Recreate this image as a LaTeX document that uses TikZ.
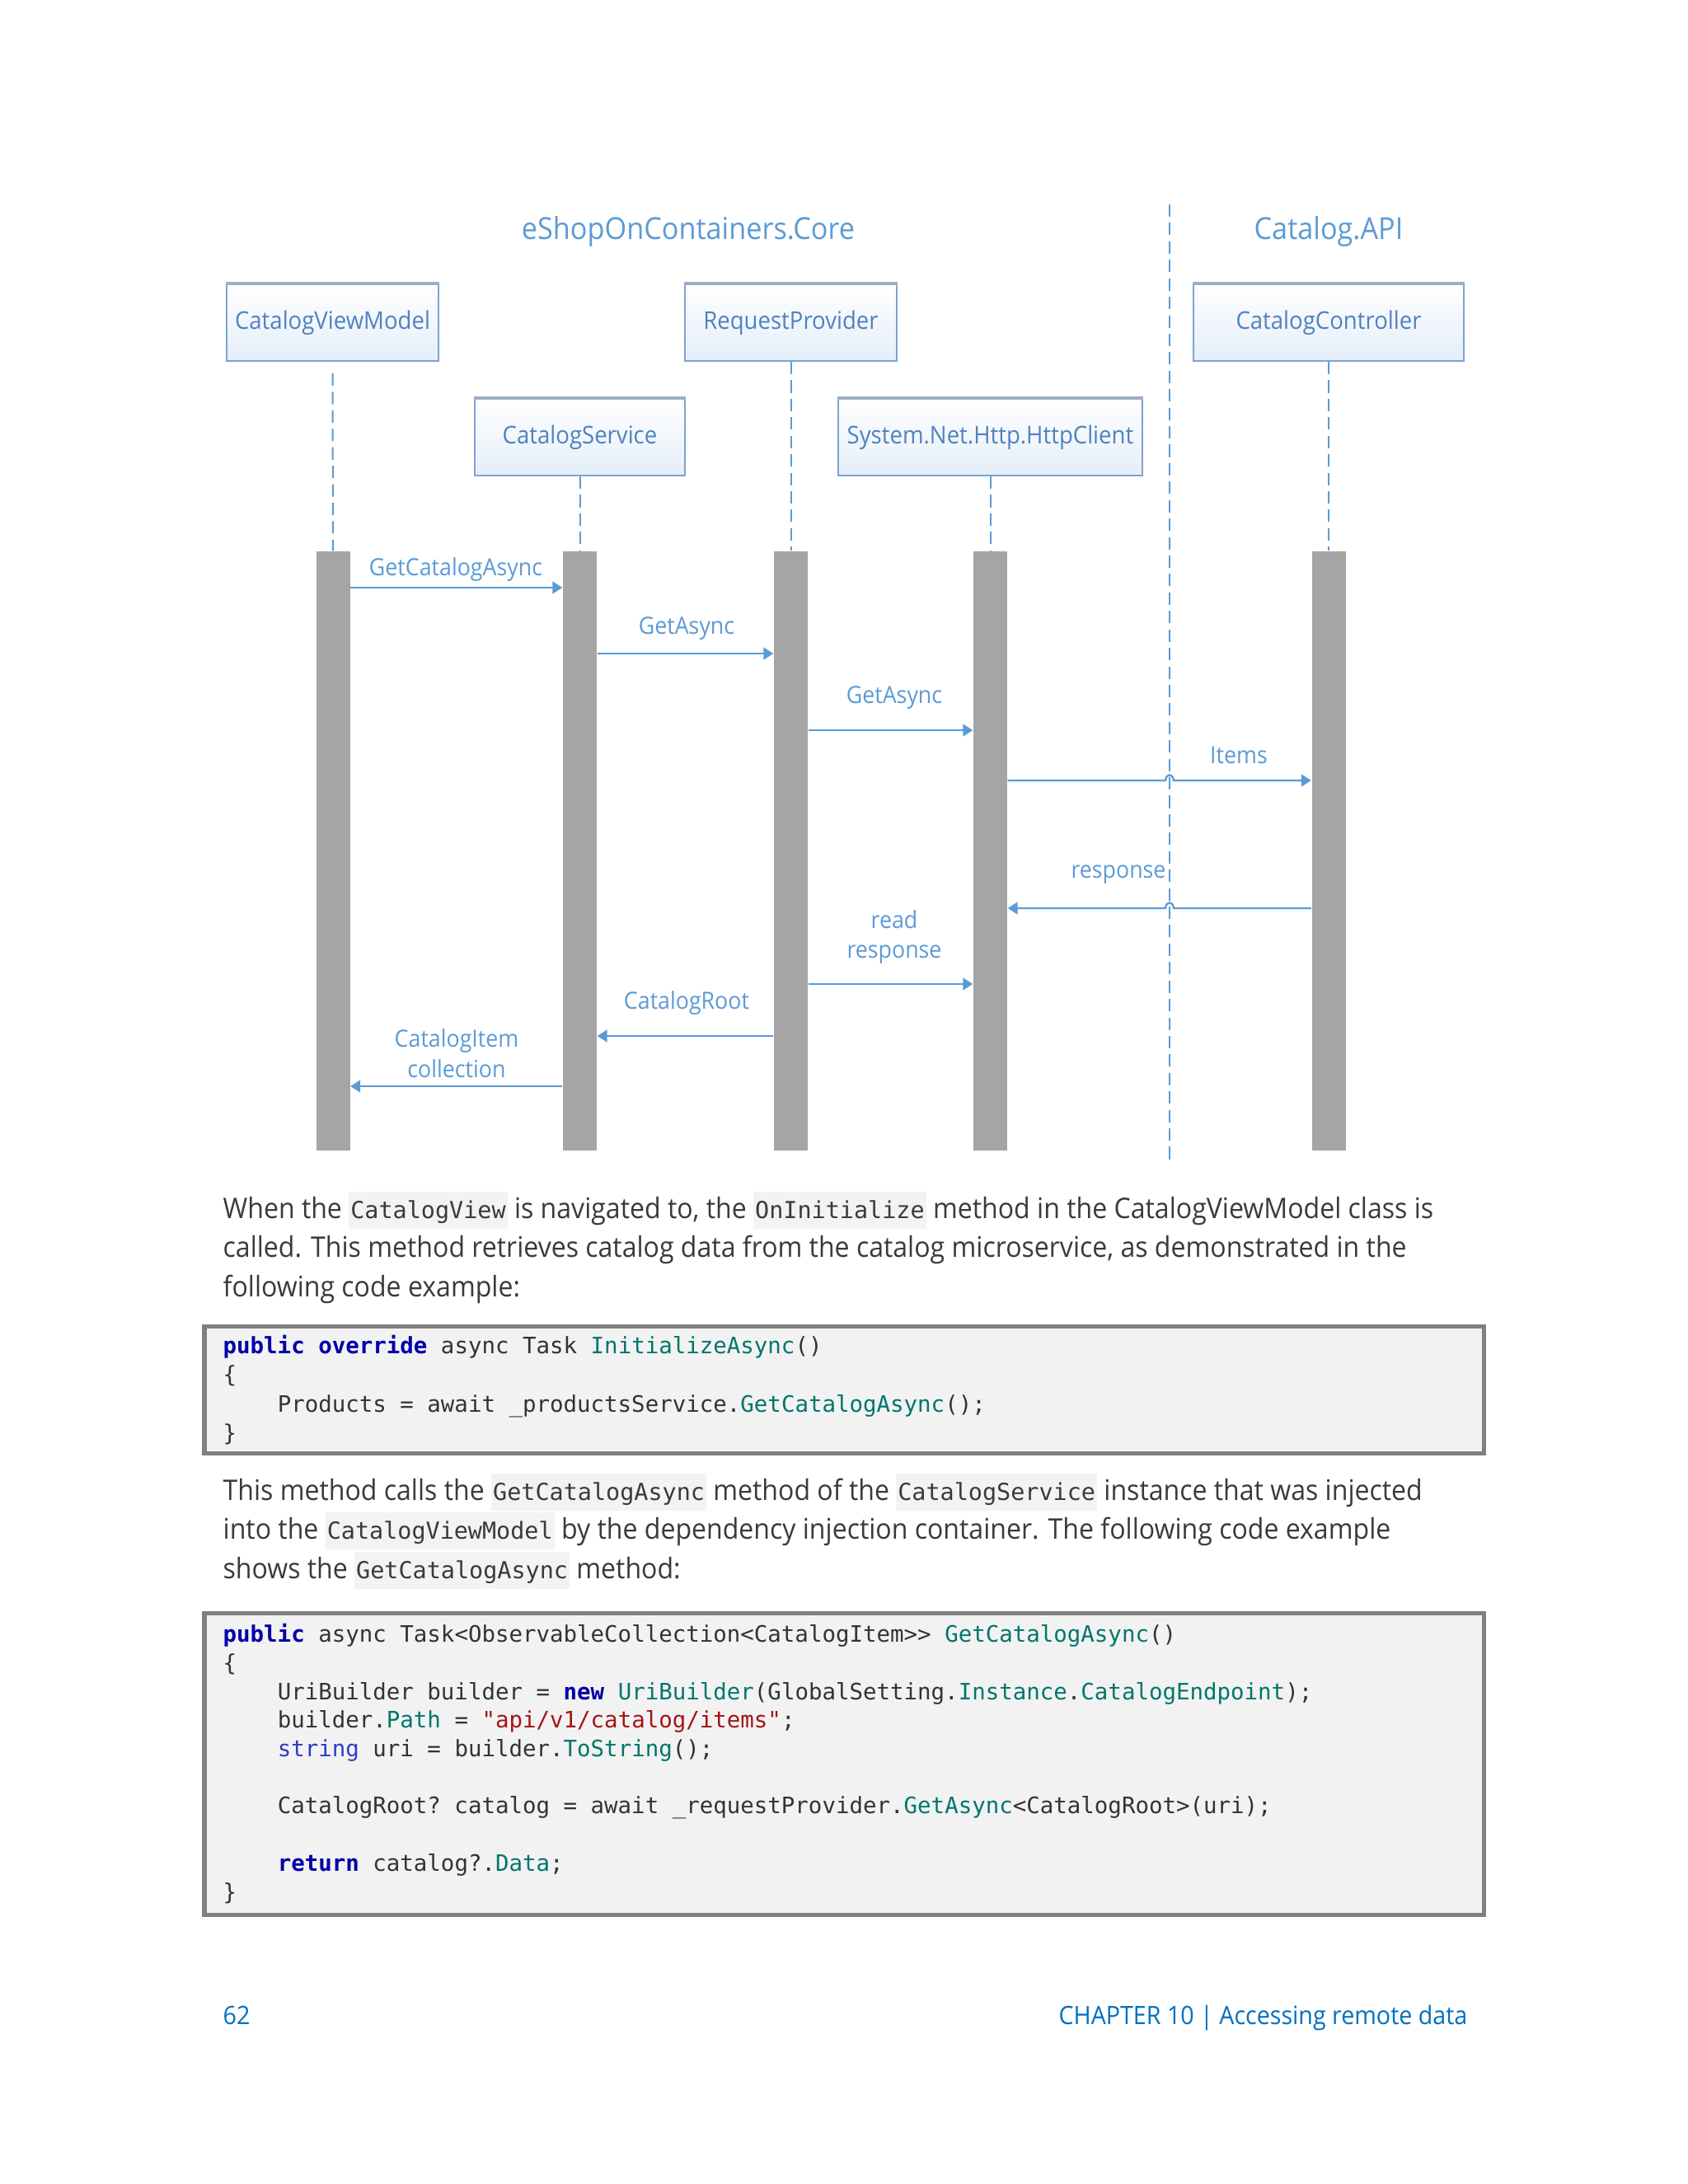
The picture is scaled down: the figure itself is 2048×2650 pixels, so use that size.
\documentclass[tikz,border=0pt]{standalone}
\usepackage{fontspec}
\setmainfont{Open Sans}[FakeStretch=0.93]
\setmonofont{DejaVu Sans Mono}
\usetikzlibrary{arrows.meta}
\definecolor{boxline}{HTML}{7DA3D2}
\definecolor{boxtop}{HTML}{9EAFC4}
\definecolor{boxfill}{HTML}{E4EEF9}
\definecolor{boxtext}{HTML}{4F82BE}
\definecolor{msgblue}{HTML}{5B9BD5}
\definecolor{bargray}{HTML}{A5A5A5}
\definecolor{bodygray}{HTML}{3A3A3A}
\definecolor{inlinebg}{HTML}{F3F3F3}
\definecolor{codebg}{HTML}{F2F2F2}
\definecolor{codeframe}{HTML}{808080}
\definecolor{codegray}{HTML}{333333}
\definecolor{kwblue}{HTML}{0000A8}
\definecolor{typeblue}{HTML}{2B3FC0}
\definecolor{methteal}{HTML}{00766C}
\definecolor{strred}{HTML}{A31515}
\definecolor{footblue}{HTML}{0070C0}
\newcommand\icode[1]{{\setlength\fboxsep{0pt}\colorbox{inlinebg}{\rule[-3.8pt]{0pt}{13.4pt}\kern0.6pt\fontsize{8.5}{10}\ttfamily #1\kern0.6pt}}}
\newcommand\kw[1]{\textcolor{kwblue}{\bfseries #1}}
\newcommand\kwtype[1]{\textcolor{typeblue}{#1}}
\newcommand\meth[1]{\textcolor{methteal}{#1}}
\newcommand\strlit[1]{\textcolor{strred}{#1}}
\newcommand\ind{\hphantom{0000}}
\begin{document}
\begin{tikzpicture}[x=0.29883pt,y=-0.29883pt,
  actor/.style={draw=boxline,line width=0.6pt,top color=white,bottom color=boxfill,
    minimum height=27.8pt,inner sep=0pt,text=boxtext,font=\fontsize{8.85}{11}\selectfont},
  bar/.style={fill=bargray,minimum width=12.25pt,minimum height=217.2pt,inner sep=0pt},
  life/.style={draw=msgblue,line width=0.6pt,dash pattern=on 4.5pt off 2.2pt},
  msg/.style={draw=msgblue,line width=0.7pt,-{Triangle[length=3.6pt,width=4.4pt]}},
  lbl/.style={text=msgblue,font=\fontsize{8.6}{11}\selectfont,inner sep=0pt,align=center},
  title/.style={text=msgblue,font=\fontsize{11}{13}\selectfont,inner sep=0pt},
  para/.style={anchor=base west,inner sep=0pt,text=bodygray,font=\fontsize{10.3}{14}\selectfont},
  codeline/.style={anchor=base west,inner sep=0pt,text=codegray,font=\fontsize{8.2}{10}\selectfont\ttfamily},
  codebox/.style={fill=codebg,draw=codeframe,line width=1.5pt},
  foot/.style={anchor=base,inner sep=0pt,text=footblue,font=\fontsize{9.2}{11}\selectfont}]
\fill[white] (0,0) rectangle (2048,2650);
\node[title] (core) at (835,281) {eShopOnContainers.Core};
\node[title] (api) at (1612,281) {Catalog.API};
\coordinate (septop) at (1419,248);
\coordinate (sepbot) at (1419,1412);
\draw[life] (septop) -- (sepbot);
\node[actor,minimum width=76.8pt] (cvm) at (403.5,391.5) {CatalogViewModel};
\node[actor,minimum width=76.8pt] (rp) at (959.5,391.5) {RequestProvider};
\node[actor,minimum width=98pt] (cc) at (1612,391.5) {CatalogController};
\node[actor,minimum width=76.2pt] (cs) at (703.5,530.5) {CatalogService};
\node[actor,minimum width=110.3pt] (hc) at (1201.5,530.5) {System.Net.Http.HttpClient};
\foreach \b in {cvm,rp,cc,cs,hc}
  \draw[boxtop,line width=1.2pt] (\b.north west) -- (\b.north east);
\node[bar] (b1) at (404,1032.5) {};
\node[bar] (b2) at (703.5,1032.5) {};
\node[bar] (b3) at (959.5,1032.5) {};
\node[bar] (b4) at (1201.5,1032.5) {};
\node[bar] (b5) at (1612,1032.5) {};
\draw[life] (cvm.south) ++(0,14) -- (b1.north);
\draw[life] (cs.south) -- (b2.north);
\draw[life] (rp.south) -- (b3.north);
\draw[life] (hc.south) -- (b4.north);
\draw[life] (cc.south) -- (b5.north);
\draw[msg] (b1.east |- 0,713) -- (b2.west |- 0,713);
\node[lbl] (m1) at (553,691) {GetCatalogAsync};
\draw[msg] (b2.east |- 0,793) -- (b3.west |- 0,793);
\node[lbl] (m2) at (833,763) {GetAsync};
\draw[msg] (b3.east |- 0,886) -- (b4.west |- 0,886);
\node[lbl] (m3) at (1085,847) {GetAsync};
\draw[msg] (b4.east |- 0,947) -- (1414,947) .. controls (1415,938) and (1423,938) .. (1424,947) -- (b5.west |- 0,947);
\node[lbl] (m4) at (1503,916) {Items};
\draw[msg] (b5.west |- 0,1102) -- (1424,1102) .. controls (1423,1093) and (1415,1093) .. (1414,1102) -- (b4.east |- 0,1102);
\node[lbl] (m5) at (1357,1061) {response};
\draw[msg] (b3.east |- 0,1194) -- (b4.west |- 0,1194);
\node[lbl] (m6) at (1085,1137) {read\\response};
\draw[msg] (b3.west |- 0,1257) -- (b2.east |- 0,1257);
\node[lbl] (m7) at (833,1217) {CatalogRoot};
\draw[msg] (b2.west |- 0,1318) -- (b1.east |- 0,1318);
\node[lbl] (m8) at (554,1278) {CatalogItem\\collection};
\node[para] (p1a) at (270,1478) {When the \icode{CatalogView} is navigated to, the \icode{OnInitialize} method in the CatalogViewModel class is};
\node[para] (p1b) at (270,1525) {called. This method retrieves catalog data from the catalog microservice, as demonstrated in the};
\node[para] (p1c) at (270,1573) {following code example:};
\draw[codebox] (248,1609) rectangle (1800,1763);
\node[codeline] (c1a) at (270,1642) {\kw{public} \kw{override} async Task \meth{InitializeAsync}()};
\node[codeline] (c1b) at (270,1677) {\{};
\node[codeline] (c1c) at (270,1713) {\ind Products = await \_productsService.\meth{GetCatalogAsync}();};
\node[codeline] (c1d) at (270,1748) {\}};
\node[para] (p2a) at (270,1820) {This method calls the \icode{GetCatalogAsync} method of the \icode{CatalogService} instance that was injected};
\node[para] (p2b) at (270,1867) {into the \icode{CatalogViewModel} by the dependency injection container. The following code example};
\node[para] (p2c) at (270,1915) {shows the \icode{GetCatalogAsync} method:};
\draw[codebox] (248,1957) rectangle (1800,2323);
\node[codeline] (c2a) at (270,1992) {\kw{public} async Task<ObservableCollection<CatalogItem>{}> \meth{GetCatalogAsync}()};
\node[codeline] (c2b) at (270,2027) {\{};
\node[codeline] (c2c) at (270,2062) {\ind UriBuilder builder = \kw{new} \meth{UriBuilder}(GlobalSetting.\meth{Instance}.\meth{CatalogEndpoint});};
\node[codeline] (c2d) at (270,2096) {\ind builder.\meth{Path} = \strlit{"api/v1/catalog/items"};};
\node[codeline] (c2e) at (270,2131) {\ind \kwtype{string} uri = builder.\meth{ToString}();};
\node[codeline] (c2f) at (270,2200) {\ind CatalogRoot? catalog = await \_requestProvider.\meth{GetAsync}<CatalogRoot>(uri);};
\node[codeline] (c2g) at (270,2270) {\ind \kw{return} catalog?.\meth{Data};};
\node[codeline] (c2h) at (270,2305) {\}};
\node[foot,anchor=base west] (page) at (270,2456) {62};
\node[foot,anchor=base east] (chap) at (1781,2456) {CHAPTER 10 | Accessing remote data};
\end{tikzpicture}
\end{document}
